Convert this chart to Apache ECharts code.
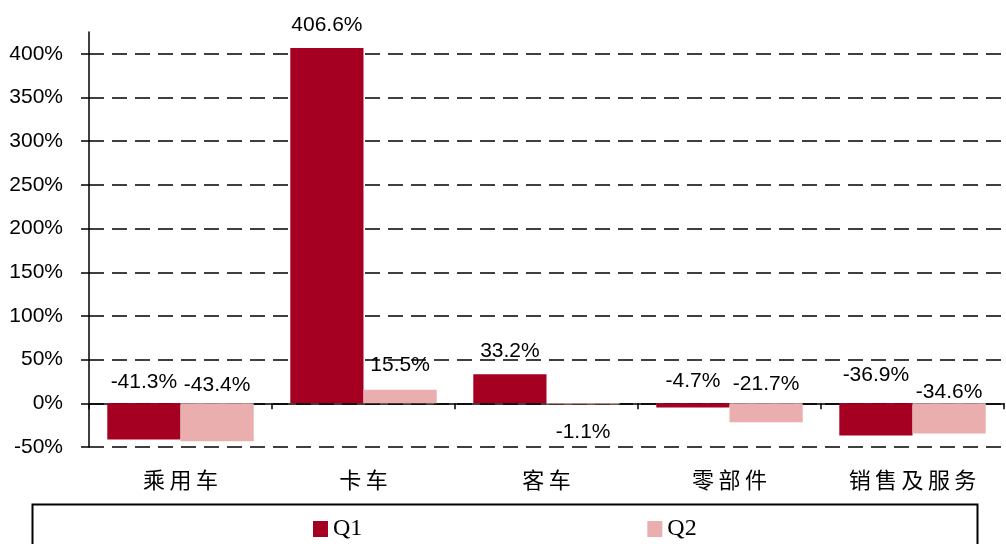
<!DOCTYPE html>
<html>
<head>
<meta charset="utf-8">
<script src="https://cdn.jsdelivr.net/npm/echarts@6/dist/echarts.min.js"></script>
<style>
    html, body { margin: 0; padding: 0; background: #fff; }
    #main { width: 1006px; height: 544px; }
</style>
</head>
<body>
<div id="main"></div>
<script>
var categories = ['乘用车', '卡车', '客车', '零部件', '销售及服务'];
var q1Values = [-41.3, 406.6, 33.2, -4.7, -36.9];
var q2Values = [-43.4, 15.5, -1.1, -21.7, -34.6];
var yTicks = [-50, 0, 50, 100, 150, 200, 250, 300, 350, 400];

// label gap from the bar edge, read by eye
var q1LabelGap = [11, 12, 13, 12, 18];
var q2LabelGap = [8, 14, 17, 9, 1];
var q2LabelSide = ['top', 'top', 'bottom', 'top', 'top'];

function pct(v) {
    return v.toFixed(1) + '%';
}

function barData(values, gaps, sides) {
    return values.map(function (v, i) {
        return {
            value: v,
            label: {
                position: sides ? sides[i] : 'top',
                distance: gaps[i]
            }
        };
    });
}

var myChart = echarts.init(document.getElementById('main'));

var barLabel = {
    show: true,
    color: '#000',
    fontFamily: 'Liberation Sans',
    fontSize: 21,
    formatter: function (p) { return pct(p.value); }
};

var option = {
    animation: false,
    backgroundColor: '#fff',
    grid: {
        left: 89,
        right: 2,
        top: 32,
        bottom: 97
    },
    legend: {
        data: ['Q1', 'Q2'],
        left: 313,
        top: 517,
        padding: 0,
        itemWidth: 15,
        itemHeight: 16,
        itemGap: 285,
        icon: 'rect',
        textStyle: {
            fontFamily: 'Liberation Serif',
            fontSize: 24,
            color: '#000'
        }
    },
    graphic: [{
        type: 'rect',
        left: 30,
        top: 502,
        shape: { width: 945, height: 60 },
        style: { fill: 'none', stroke: '#000', lineWidth: 2 },
        silent: true
    }],
    xAxis: [{
        type: 'category',
        data: categories,
        axisLine: { onZero: true, lineStyle: { color: '#000', width: 1.5 } },
        axisTick: { show: true, length: 6, lineStyle: { color: '#000', width: 1.5 } },
        axisLabel: { show: false },
        splitLine: { show: false }
    }, {
        type: 'category',
        data: categories,
        position: 'bottom',
        axisLine: { show: false, onZero: false },
        axisTick: { show: false },
        axisLabel: {
            margin: 22,
            color: '#000',
            fontFamily: 'Noto Sans CJK SC',
            fontSize: 22,
            formatter: function (v) { return v.split('').join('\u2009'); }
        }
    }],
    yAxis: {
        type: 'value',
        min: -50,
        max: 425,
        interval: 50,
        axisLine: { show: true, lineStyle: { color: '#000', width: 1.5 } },
        axisTick: {
            show: true,
            length: 8,
            customValues: yTicks,
            lineStyle: { color: '#000', width: 1.5 }
        },
        axisLabel: {
            margin: 26,
            color: '#000',
            fontFamily: 'Liberation Sans',
            fontSize: 21,
            customValues: yTicks,
            formatter: function (v) { return v + '%'; }
        },
        splitLine: {
            show: true,
            lineStyle: { color: '#000', width: 1.5, type: [15, 8] }
        }
    },
    series: [{
        name: 'Q1',
        type: 'bar',
        xAxisIndex: 0,
        barGap: '0%',
        barCategoryGap: '20%',
        itemStyle: { color: '#A50021' },
        label: barLabel,
        data: barData(q1Values, q1LabelGap)
    }, {
        name: 'Q2',
        type: 'bar',
        xAxisIndex: 0,
        barGap: '0%',
        barCategoryGap: '20%',
        itemStyle: { color: '#E9AEAD' },
        label: barLabel,
        data: barData(q2Values, q2LabelGap, q2LabelSide)
    }]
};

myChart.setOption(option);
</script>
</body>
</html>
